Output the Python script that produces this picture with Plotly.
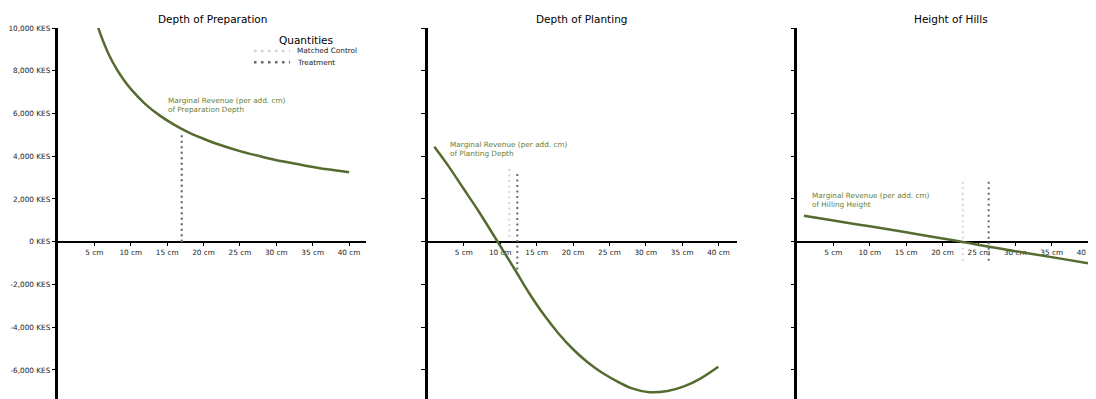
import plotly.graph_objects as go

# ---------------- data ----------------
PANEL_TITLES = ["Depth of Preparation", "Depth of Planting", "Height of Hills"]
CURVE_LABELS = [
    "Marginal Revenue (per add. cm)<br>of Preparation Depth",
    "Marginal Revenue (per add. cm)<br>of Planting Depth",
    "Marginal Revenue (per add. cm)<br>of Hilling Height",
]
LEGEND_TITLE = "Quantities"
LEGEND_NAMES = ["Matched Control", "Treatment"]

X_TICKS = [5, 10, 15, 20, 25, 30, 35, 40]
X_TICK_TEXT = [f"{v} cm" for v in X_TICKS]
Y_TICKS = [-6000, -4000, -2000, 0, 2000, 4000, 6000, 8000, 10000]
Y_TICK_TEXT = ["-6,000 KES", "-4,000 KES", "-2,000 KES", "0 KES", "2,000 KES",
               "4,000 KES", "6,000 KES", "8,000 KES", "10,000 KES"]

prep_x = [5.4, 6, 7, 8, 9, 10, 12, 14, 16, 18, 20, 22, 25, 28, 31, 34, 37, 40]
prep_mr = [10150, 9560, 8750, 8110, 7590, 7150, 6440, 5900, 5470, 5110, 4820,
           4560, 4240, 3980, 3750, 3560, 3390, 3250]

plant_x = [0.94, 3, 4.92, 7, 9.64, 12, 14, 16, 18, 20, 22, 24, 26, 28, 30.5, 33, 35.15, 37.5, 39.96]
plant_mr = [4440, 3480, 2500, 1440, 0, -1300, -2420, -3420, -4290, -5030, -5640,
            -6130, -6520, -6850, -7040, -6980, -6780, -6400, -5850]

hill_x = [0.96, 5, 10, 15, 20, 22.6, 25, 30, 35, 40.03]
hill_mr = [1216, 990, 720, 440, 150, 0, -150, -440, -720, -1010]

control_x = [17.0, 11.24, 22.77]
control_lo = [0, 220, -890]
control_hi = [5145, 3400, 2890]
treatment_x = [17.0, 12.34, 26.34]
treatment_lo = [0, -1560, -890]
treatment_hi = [5145, 3270, 2890]

label_x = [15.16, 3.09, 2.10]
label_y = [6380, 4336, 1941]

# ---------------- style / layout ----------------
W, H = 1096, 399
OFF = 8            # page body margin offset of the plot div
FONT = "DejaVu Sans"
GREEN = "#556B2F"
LABEL_GREEN = "#66803a"
CTRL = "#d3d3d3"
TREAT = "#696969"
DOT = "2px,3.5px"

TOP_WIN = 27.7
ZERO_WIN = 241.7
PX_PER_K = 21.38
px_per_cm = 7.277
panel_win = [(58, 366), (427.5, 736.5), (797, 1104)]

TOP = TOP_WIN - OFF
plot_h = H - TOP
y_bottom = -((H + OFF) - ZERO_WIN) / PX_PER_K * 1000
y_range = [y_bottom, 10000]
zero_pos = (H - (ZERO_WIN - OFF)) / plot_h


def px(wx):
    return (wx - OFF) / W


def py(wy):
    return (H - (wy - OFF)) / plot_h


fig = go.Figure()
curves = [(prep_x, prep_mr), (plant_x, plant_mr), (hill_x, hill_mr)]

for i in range(3):
    sfx = "" if i == 0 else str(i + 1)
    xa, ya = "x" + sfx, "y" + sfx
    fig.add_trace(go.Scatter(x=[control_x[i], control_x[i]], y=[control_lo[i], control_hi[i]],
                             mode="lines", line=dict(color=CTRL, width=2, dash=DOT),
                             showlegend=False, hoverinfo="skip", xaxis=xa, yaxis=ya))
    fig.add_trace(go.Scatter(x=[treatment_x[i], treatment_x[i]], y=[treatment_lo[i], treatment_hi[i]],
                             mode="lines", line=dict(color=TREAT, width=2, dash=DOT),
                             showlegend=False, hoverinfo="skip", xaxis=xa, yaxis=ya))
    cx, cy = curves[i]
    fig.add_trace(go.Scatter(x=cx, y=cy, mode="lines",
                             line=dict(color=GREEN, width=2.5, shape="spline", smoothing=1),
                             showlegend=False, xaxis=xa, yaxis=ya))

    x0, x1 = panel_win[i]
    fig.layout["xaxis" + sfx] = dict(
        domain=[px(x0), min(px(x1), 1.0)], range=[0, (x1 - x0) / px_per_cm],
        anchor="free", position=zero_pos,
        showline=True, linecolor="black", linewidth=2,
        ticks="outside", ticklen=3.5, tickwidth=1, tickcolor="black",
        tickvals=X_TICKS, ticktext=X_TICK_TEXT,
        tickfont=dict(family=FONT, size=7.3, color="#222"),
        showgrid=False, zeroline=False, layer="below traces", fixedrange=True,
    )
    fig.layout["yaxis" + sfx] = dict(
        domain=[0, 1], range=y_range, anchor=xa,
        showline=True, linecolor="black", linewidth=2.5,
        ticks="outside", ticklen=3.5, tickwidth=1, tickcolor="black",
        tickvals=Y_TICKS, ticktext=Y_TICK_TEXT, showticklabels=(i == 0),
        tickfont=dict(family=FONT, size=7.3, color="#222"),
        showgrid=False, zeroline=False, layer="below traces", fixedrange=True,
    )

annotations = []
for i in range(3):
    x0, _ = panel_win[i]
    annotations.append(dict(text=PANEL_TITLES[i], xref="paper", yref="paper",
                            x=px(x0 + 154), y=py(19),
                            xanchor="center", yanchor="middle", showarrow=False,
                            font=dict(family=FONT, size=10.5, color="black")))
    sfx = "" if i == 0 else str(i + 1)
    annotations.append(dict(text=CURVE_LABELS[i], xref="x" + sfx, yref="y" + sfx,
                            x=label_x[i], y=label_y[i], xanchor="left", yanchor="middle",
                            align="left", showarrow=False, borderpad=0, borderwidth=0,
                            font=dict(family=FONT, size=7.3, color=LABEL_GREEN)))

# manual legend (matplotlib-like compact layout)
annotations.append(dict(text=LEGEND_TITLE, xref="paper", yref="paper", x=px(306), y=py(39.3),
                        xanchor="center", yanchor="middle", showarrow=False,
                        font=dict(family=FONT, size=10.5, color="black")))
shapes = []
for name, col, yy in [(LEGEND_NAMES[0], CTRL, 50.7), (LEGEND_NAMES[1], TREAT, 62)]:
    shapes.append(dict(type="line", xref="paper", yref="paper", x0=px(254), x1=px(290),
                       y0=py(yy), y1=py(yy), line=dict(color=col, width=2.5, dash="2.5px,4.5px")))
    annotations.append(dict(text=name, xref="paper", yref="paper", x=px(297), y=py(yy),
                            xanchor="left", yanchor="middle", showarrow=False,
                            borderpad=0, borderwidth=0,
                            font=dict(family=FONT, size=7.3, color="#222")))

fig.update_layout(width=W, height=H, margin=dict(l=0, r=0, t=TOP, b=0),
                  paper_bgcolor="white", plot_bgcolor="white", showlegend=False,
                  annotations=annotations, shapes=shapes,
                  font=dict(family=FONT))

fig.write_html("out.html")
